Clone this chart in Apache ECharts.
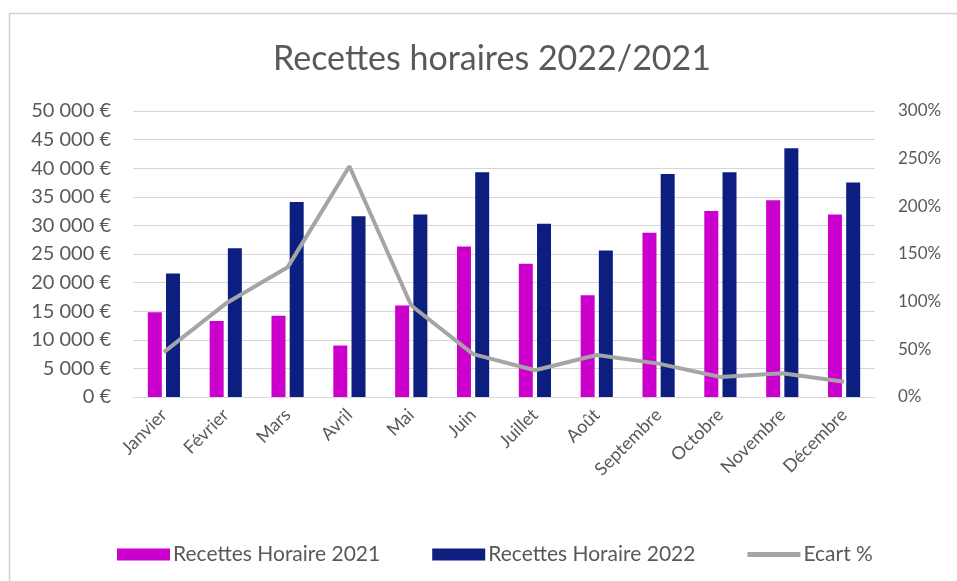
<!DOCTYPE html>
<html>
<head>
<meta charset="utf-8">
<script src="https://cdn.jsdelivr.net/npm/echarts@6/dist/echarts.min.js"></script>
<style>
html,body{margin:0;padding:0;background:#fff;}
#chart{width:957px;height:581px;}
</style>
</head>
<body>
<div id="chart"></div>
<script>
const months = ['Janvier','Février','Mars','Avril','Mai','Juin','Juillet','Août','Septembre','Octobre','Novembre','Décembre'];
const recettes2021 = [14800, 13300, 14200, 9000, 16000, 26300, 23300, 17800, 28700, 32500, 34400, 31900];
const recettes2022 = [21600, 26000, 34100, 31600, 31900, 39300, 30300, 25600, 39000, 39300, 43500, 37500];
const ecartPct = [47, 98, 136, 242, 96, 45, 28, 44, 35, 21, 25, 16];

const FONT = 'Lato';
const TXT = '#595959';

function euro(v){
  return String(v).replace(/\B(?=(\d{3})+(?!\d))/g, ' ') + ' €';
}

const chart = echarts.init(document.getElementById('chart'));
chart.setOption({
  backgroundColor: '#fff',
  animation: false,
  textStyle: {fontFamily: FONT},
  graphic: [{
    type: 'rect',
    left: 7, top: 11,
    shape: {width: 1000, height: 600},
    style: {fill: 'none', stroke: '#D0D0D0', lineWidth: 1.5},
    silent: true, z: -1
  }],
  title: {
    text: 'Recettes horaires 2022/2021',
    left: 268, top: 37,
    textStyle: {fontFamily: FONT, fontSize: 34, fontWeight: 'normal', color: TXT}
  },
  legend: {
    left: 112, top: 539,
    itemWidth: 53, itemHeight: 12, itemGap: 52,
    textStyle: {fontFamily: FONT, fontSize: 21, color: TXT, padding: [0,0,0,-2]},
    data: [
      {name: 'Recettes Horaire 2021', icon: 'rect'},
      {name: 'Recettes Horaire 2022', icon: 'rect'},
      {name: 'Ecart %', icon: 'path://M0,0 L100,0 L100,9 L0,9 Z'}
    ]
  },
  grid: {left: 133, right: 82, top: 111, bottom: 184, containLabel: false},
  xAxis: {
    type: 'category',
    data: months,
    axisLine: {show: true, lineStyle: {color: '#D9D9D9', width: 1}},
    axisTick: {show: false},
    axisLabel: {rotate: 45, fontFamily: FONT, fontSize: 18, color: TXT, margin: 15, interval: 0}
  },
  yAxis: [{
    type: 'value', min: 0, max: 50000, interval: 5000,
    axisLine: {show: false}, axisTick: {show: false},
    splitLine: {lineStyle: {color: '#D6D6D6', width: 1}},
    axisLabel: {fontFamily: FONT, fontSize: 20, color: TXT, margin: 22, formatter: euro}
  }, {
    type: 'value', min: 0, max: 300, interval: 50,
    axisLine: {show: false}, axisTick: {show: false},
    splitLine: {show: false},
    axisLabel: {fontFamily: FONT, fontSize: 17, color: TXT, margin: 23, formatter: '{value}%'}
  }],
  series: [{
    name: 'Recettes Horaire 2021', type: 'bar', data: recettes2021,
    barWidth: 14, barGap: '30%',
    itemStyle: {color: '#CC00CC'}
  }, {
    name: 'Recettes Horaire 2022', type: 'bar', data: recettes2022,
    barWidth: 14, barGap: '30%',
    itemStyle: {color: '#0C1F80'}
  }, {
    name: 'Ecart %', type: 'line', yAxisIndex: 1, data: ecartPct,
    symbol: 'none',
    lineStyle: {color: '#A5A5A5', width: 4},
    itemStyle: {color: '#A5A5A5'}
  }]
});
</script>
</body>
</html>
